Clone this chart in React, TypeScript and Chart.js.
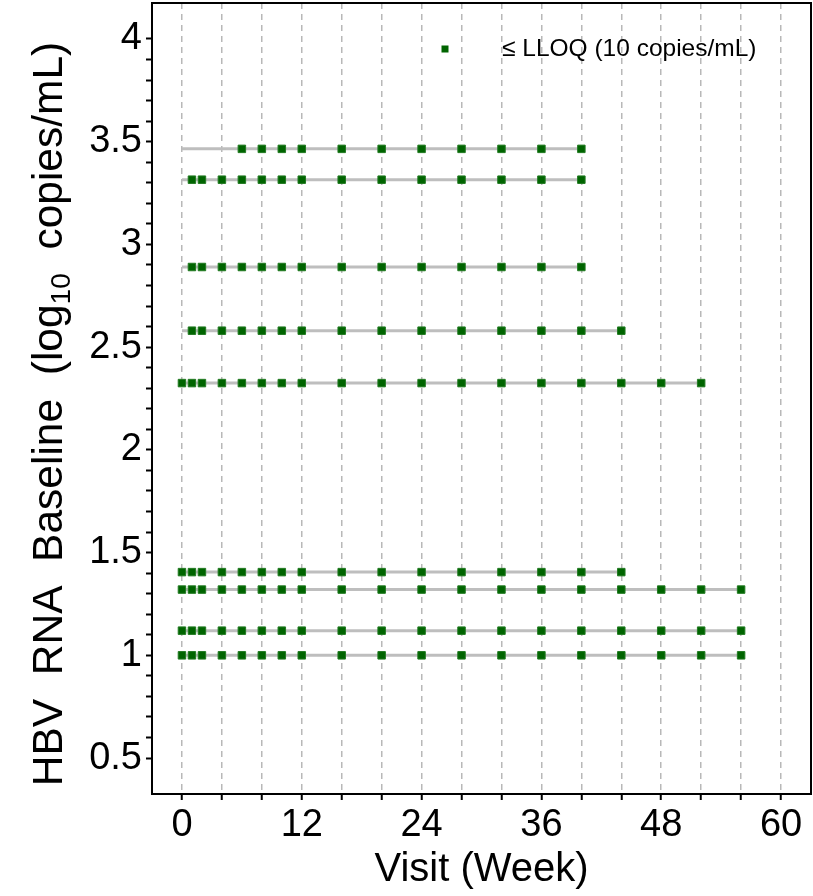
import React, { useEffect, useRef } from "react";
import { Chart, registerables } from "chart.js";

Chart.register(...registerables);

// ---- data ----
const subjectBaseline = [3.465, 3.315, 2.89, 2.58, 2.325, 1.405, 1.32, 1.12, 1.0];
const subjectLastWeek = [40, 40, 40, 44, 52, 44, 56, 56, 56];
const lloqS1 = [6, 8, 10, 12, 16, 20, 24, 28, 32, 36, 40];
const lloqS2 = [1, 2, 4, 6, 8, 10, 12, 16, 20, 24, 28, 32, 36, 40];
const lloqS3 = [1, 2, 4, 6, 8, 10, 12, 16, 20, 24, 28, 32, 36, 40];
const lloqS4 = [1, 2, 4, 6, 8, 10, 12, 16, 20, 24, 28, 32, 36, 40, 44];
const lloqS5 = [0, 1, 2, 4, 6, 8, 10, 12, 16, 20, 24, 28, 32, 36, 40, 44, 48, 52];
const lloqS6 = [0, 1, 2, 4, 6, 8, 10, 12, 16, 20, 24, 28, 32, 36, 40, 44];
const lloqS7 = [0, 1, 2, 4, 6, 8, 10, 12, 16, 20, 24, 28, 32, 36, 40, 44, 48, 52, 56];
const lloqS8 = [0, 1, 2, 4, 6, 8, 10, 12, 16, 20, 24, 28, 32, 36, 40, 44, 48, 52, 56];
const lloqS9 = [0, 1, 2, 4, 6, 8, 10, 12, 16, 20, 24, 28, 32, 36, 40, 44, 48, 52, 56];
const lloqWeeks = [lloqS1, lloqS2, lloqS3, lloqS4, lloqS5, lloqS6, lloqS7, lloqS8, lloqS9];

const xLabelTicks = [0, 12, 24, 36, 48, 60];
const yLabelTicks = [0.5, 1, 1.5, 2, 2.5, 3, 3.5, 4];
const xMinorStep = 4;
const yMinorStep = 0.1;

const legendLabel = "\u2264 LLOQ (10 copies/mL)";
const xTitle = "Visit (Week)";
const yTitleParts = ["HBV  RNA  Baseline  (log", "10", "  copies/mL)"];

const FONT = "'Liberation Sans', Arial, Helvetica, sans-serif";
const GREEN = "#006400";

export default function App() {
  const ref = useRef<HTMLCanvasElement>(null);

  useEffect(() => {
    const canvas = ref.current;
    if (!canvas) return;

    const xTicks: number[] = [];
    for (let v = xLabelTicks[0]; v <= xLabelTicks[xLabelTicks.length - 1] + 1e-9; v += xMinorStep) xTicks.push(v);
    const yTicks: number[] = [];
    for (let i = 0; ; i++) {
      const v = Math.round((yLabelTicks[0] + i * yMinorStep) * 10) / 10;
      if (v > yLabelTicks[yLabelTicks.length - 1] + 1e-9) break;
      yTicks.push(v);
    }

    const points: { x: number; y: number }[] = [];
    lloqWeeks.forEach((weeks, i) => weeks.forEach((w) => points.push({ x: w, y: subjectBaseline[i] })));

    const lineSets = subjectBaseline.map((b, i) => ({
      type: "line" as const,
      label: "subject " + (i + 1),
      data: [
        { x: 0, y: b },
        { x: subjectLastWeek[i], y: b },
      ],
      borderColor: "#bebebe",
      borderWidth: 3,
      pointRadius: 0,
      showLine: true,
      fill: false,
    }));

    const frame = {
      id: "frame",
      afterDraw(chart: any) {
        const { ctx, chartArea } = chart;
        ctx.save();
        ctx.strokeStyle = "#000";
        ctx.lineWidth = 2;
        ctx.strokeRect(chartArea.left, chartArea.top, chartArea.right - chartArea.left, chartArea.bottom - chartArea.top);
        // legend
        const lx = chartArea.right - 366;
        const ly = chartArea.top + 46;
        ctx.fillStyle = GREEN;
        ctx.fillRect(lx - 3.5, ly - 3.5, 7, 7);
        ctx.fillStyle = "#000";
        ctx.font = "24.5px " + FONT;
        ctx.textBaseline = "middle";
        ctx.textAlign = "left";
        ctx.fillText(chart.data.datasets[0].label, lx + 57, ly);
        // y-axis title with subscript
        const big = "42.5px " + FONT;
        const small = "28px " + FONT;
        ctx.font = big;
        const w0 = ctx.measureText(yTitleParts[0]).width;
        const w2 = ctx.measureText(yTitleParts[2]).width;
        ctx.font = small;
        const w1 = ctx.measureText(yTitleParts[1]).width;
        const total = w0 + w1 + w2;
        ctx.translate(62, 414);
        ctx.rotate(-Math.PI / 2);
        ctx.textBaseline = "alphabetic";
        let x = -total / 2;
        ctx.font = big;
        ctx.fillText(yTitleParts[0], x, 0);
        x += w0;
        ctx.font = small;
        ctx.fillText(yTitleParts[1], x, 8);
        x += w1;
        ctx.font = big;
        ctx.fillText(yTitleParts[2], x, 0);
        ctx.restore();
      },
    };

    const chart = new Chart(canvas, {
      type: "scatter",
      data: {
        datasets: [
          {
            label: legendLabel,
            data: points,
            pointStyle: "rect",
            pointRadius: 5.3,
            pointBorderWidth: 1,
            backgroundColor: GREEN,
            borderColor: "#217a21",
            showLine: false,
          } as any,
          ...lineSets,
        ],
      },
      options: {
        animation: false,
        responsive: false,
        events: [],
        layout: { autoPadding: false, padding: { left: 0, top: 3, right: 2, bottom: 0 } },
        plugins: { legend: { display: false }, tooltip: { enabled: false } },
        scales: {
          x: {
            type: "linear",
            min: -3,
            max: 63,
            afterBuildTicks: (s: any) => {
              s.ticks = xTicks.map((v) => ({ value: v }));
            },
            afterFit: (s: any) => {
              s.height = 102;
              s.paddingLeft = 0;
              s.paddingRight = 0;
            },
            ticks: {
              autoSkip: false,
              maxRotation: 0,
              padding: 3,
              color: "#000",
              font: { family: FONT, size: 38 },
              callback: (v: any) => (xLabelTicks.includes(Number(v)) ? String(v) : ""),
            },
            grid: {
              display: true,
              drawOnChartArea: true,
              drawTicks: true,
              color: "#b8b8b8",
              lineWidth: 1.5,
              tickColor: "#000",
              tickWidth: 2,
              tickLength: 6,
            },
            border: { display: false, dash: [6, 5] },
            title: {
              display: true,
              text: xTitle,
              color: "#000",
              font: { family: FONT, size: 40 },
              padding: { top: 0, bottom: 2 },
            },
          },
          y: {
            type: "linear",
            min: 0.325,
            max: 4.175,
            afterBuildTicks: (s: any) => {
              s.ticks = yTicks.map((v) => ({ value: v }));
            },
            afterFit: (s: any) => {
              s.width = 152;
              s.paddingTop = 0;
              s.paddingBottom = 0;
            },
            ticks: {
              autoSkip: false,
              padding: 4,
              color: "#000",
              font: { family: FONT, size: 38 },
              callback: (v: any) =>
                yLabelTicks.some((t) => Math.abs(t - Number(v)) < 1e-6) ? String(Number(v)) : "",
            },
            grid: {
              display: true,
              drawOnChartArea: false,
              drawTicks: true,
              tickColor: "#000",
              tickWidth: 2,
              tickLength: 6,
            },
            border: { display: false },
            title: { display: false },
          },
        },
      },
      plugins: [frame],
    } as any);

    return () => chart.destroy();
  }, []);

  return (
    <div style={{ position: "absolute", left: 0, top: 0, width: 813, height: 896, background: "#fff" }}>
      <canvas ref={ref} width={813} height={896} />
    </div>
  );
}
